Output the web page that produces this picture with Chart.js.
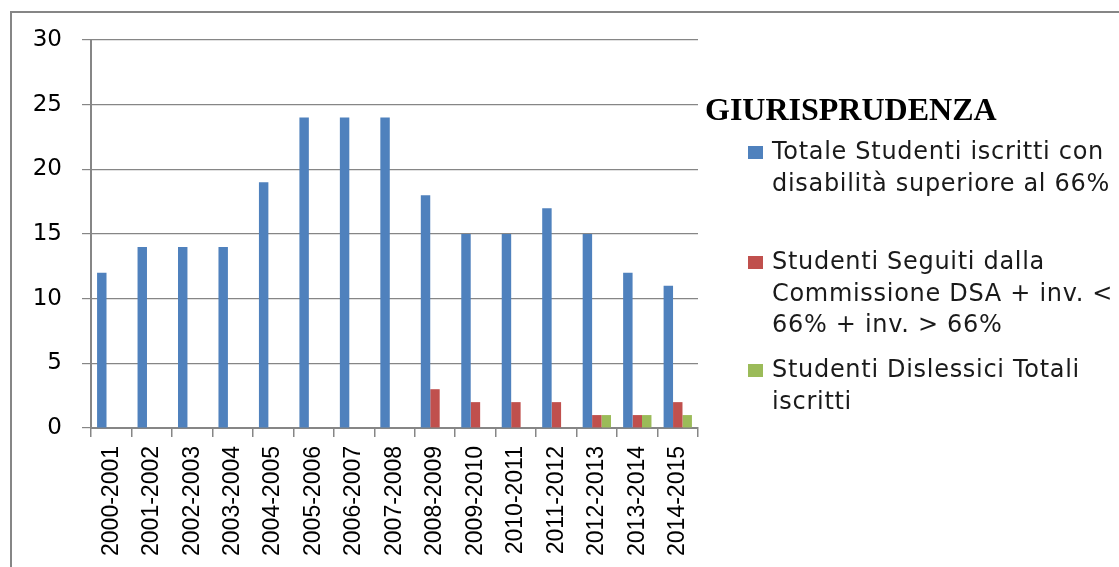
<!DOCTYPE html>
<html>
<head>
<meta charset="utf-8">
<script src="https://cdn.jsdelivr.net/npm/chart.js@4/dist/chart.umd.min.js"></script>
<style>
  body { margin: 0; background: #ffffff; }
  #wrap { position: relative; width: 1119px; height: 567px; overflow: hidden; background: #fff; }
  #frame { position: absolute; left: 10px; top: 11px; width: 1200px; height: 700px;
           border-top: 2px solid #868686; border-left: 2px solid #868686; }
  #box { position: absolute; left: 0; top: 0; width: 1119px; height: 567px; }
  #title { position: absolute; left: 705px; top: 92px; font: bold 32px "Liberation Serif", "Times New Roman", serif;
           color: #000; white-space: nowrap; line-height: 34px; }
  .item { position: absolute; left: 748px; font: 24px "DejaVu Sans", sans-serif; color: #1a1a1a;
          line-height: 31.5px; letter-spacing: 0.7px; }
  .item .sw { position: absolute; left: 0; width: 15px; height: 13px; }
  .item .tx { position: absolute; left: 24px; white-space: nowrap; }
</style>
</head>
<body>
<div id="wrap">
  <div id="frame"></div>
  <div id="box"><canvas id="barChart"></canvas></div>
  <div id="title">GIURISPRUDENZA</div>
  <div id="legend"></div>
</div>
<script>
// Data
let years = ['2000-2001', '2001-2002', '2002-2003', '2003-2004', '2004-2005',
  '2005-2006', '2006-2007', '2007-2008', '2008-2009', '2009-2010',
  '2010-2011', '2011-2012', '2012-2013', '2013-2014', '2014-2015'];
let totale = [12, 14, 14, 14, 19, 24, 24, 24, 18, 15, 15, 17, 15, 12, 11];
let seguiti = [0, 0, 0, 0, 0, 0, 0, 0, 3, 2, 2, 2, 1, 1, 2];
let dislessici = [0, 0, 0, 0, 0, 0, 0, 0, 0, 0, 0, 0, 1, 1, 1];
let yTicks = [0, 5, 10, 15, 20, 25, 30];

// legend text, one entry per line
let legendLines = [
  ['Totale Studenti iscritti con', 'disabilità superiore al 66%'],
  ['Studenti Seguiti dalla', 'Commissione DSA + inv. <', '66% + inv. > 66%'],
  ['Studenti Dislessici Totali', 'iscritti']
];
let colors = ['#4F81BD', '#C0504D', '#9BBB59'];
let legendTops = [136, 246, 354];

let gridGray = '#868686';

let data = {
  labels: years,
  datasets: [{
    label: legendLines[0].join(' '),
    data: totale,
    backgroundColor: colors[0]
  }, {
    label: legendLines[1].join(' '),
    data: seguiti,
    backgroundColor: colors[1]
  }, {
    label: legendLines[2].join(' '),
    data: dislessici,
    backgroundColor: colors[2]
  }]
};

let config = {
  type: 'bar',
  data,
  options: {
    responsive: true,
    maintainAspectRatio: false,
    animation: false,
    datasets: { bar: { categoryPercentage: 0.7, barPercentage: 1.0, borderWidth: 0 } },
    layout: { padding: { left: 0, top: 40, right: 421, bottom: 0 } },
    plugins: { legend: { display: false }, tooltip: { enabled: false } },
    scales: {
      x: {
        offset: true,
        grid: { offset: true, drawOnChartArea: false, drawTicks: true, tickLength: 9, color: gridGray, lineWidth: 1.5 },
        border: { color: gridGray, width: 2 },
        ticks: {
          autoSkip: false, maxRotation: 90, minRotation: 90, padding: 9,
          color: '#000', font: { family: '"Liberation Sans", Arial, sans-serif', size: 23 }
        },
        afterFit: function(scale) { scale.height = 139; }
      },
      y: {
        min: 0, max: 30,
        afterBuildTicks: function(scale) { scale.ticks = yTicks.map(v => ({ value: v })); },
        grid: { drawTicks: true, tickLength: 9, color: gridGray, lineWidth: 1.2 },
        border: { color: gridGray, width: 2 },
        ticks: {
          padding: 20, color: '#000',
          font: { family: '"DejaVu Sans", sans-serif', size: 23 }
        },
        afterFit: function(scale) { scale.width = 91; }
      }
    }
  }
};

let barChart = new Chart(document.getElementById('barChart'), config);

// HTML legend with wrapped lines
let legend = document.getElementById('legend');
legendLines.forEach(function(lines, i) {
  let item = document.createElement('div');
  item.className = 'item';
  item.style.top = legendTops[i] + 'px';
  let sw = document.createElement('div');
  sw.className = 'sw';
  sw.style.background = barChart.data.datasets[i].backgroundColor;
  sw.style.top = '10px';
  let tx = document.createElement('div');
  tx.className = 'tx';
  tx.innerHTML = lines.join('<br>');
  item.appendChild(sw);
  item.appendChild(tx);
  legend.appendChild(item);
});
</script>
</body>
</html>
